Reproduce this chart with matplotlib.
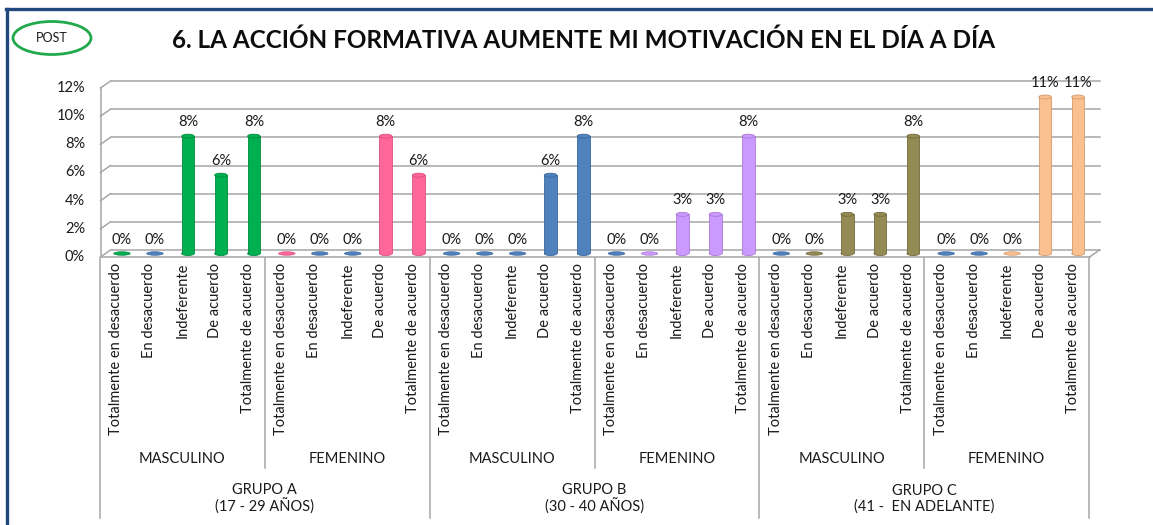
import matplotlib
matplotlib.use("Agg")
import matplotlib.pyplot as plt
from matplotlib.patches import Ellipse
from matplotlib.lines import Line2D

plt.rcParams['font.family'] = ['Lato', 'DejaVu Sans']

# Data (porcentajes sobre 36 encuestados)
respuestas = ["Totalmente en desacuerdo", "En desacuerdo", "Indeferente",
              "De acuerdo", "Totalmente de acuerdo"]
sexos = ["MASCULINO", "FEMENINO"]
grupos = ["GRUPO A\n(17 - 29 AÑOS)", "GRUPO B\n(30 - 40 AÑOS)",
          "GRUPO C\n(41 -  EN ADELANTE)"]

a_masc = [0, 0, 8.33, 5.56, 8.33]
a_fem = [0, 0, 0, 8.33, 5.56]
b_masc = [0, 0, 0, 5.56, 8.33]
b_fem = [0, 0, 2.78, 2.78, 8.33]
c_masc = [0, 0, 2.78, 2.78, 8.33]
c_fem = [0, 0, 0, 11.11, 11.11]

series = [a_masc, a_fem, b_masc, b_fem, c_masc, c_fem]
colores = ["#00B050", "#FF6699", "#4F81BD", "#CC99FF", "#948A54", "#FAC090"]
bordes = ["#00893E", "#D9507F", "#3A679C", "#A97AD6", "#74693D", "#D39A6A"]
# zero markers keep the default blue except these positions
cero_color = {0: 0, 5: 1, 16: 3, 21: 4, 27: 5}

W, H = 1153, 525
fig = plt.figure(figsize=(W / 100, H / 100), dpi=100)

def fx(x):
    return x / W

def fy(y):
    return 1 - y / H

Y0, Y12 = 253.5, 84.5   # pixel rows of 0% and 12% at the bars' depth
ax = fig.add_axes([fx(105.5), fy(Y0), (1094.5 - 105.5) / W, (Y0 - Y12) / H])
ax.set_xlim(-0.5, 29.5)
ax.set_ylim(0, 12)
ax.axis("off")

dxu = 30 / 989          # data units per pixel (x)
dyu = 12 / (Y0 - Y12)   # data units per pixel (y)

def py(row):
    return (Y0 - row) * dyu

grid = "#A6A6A6"
txt = "#1A1A1A"

# back wall gridlines + left wall
back = 3.5 * dyu
front = -3.5 * dyu
for v in range(0, 13, 2):
    ax.plot([-0.5 + 5 * dxu, 29.5 + 5 * dxu], [v + back] * 2, color=grid, lw=1.1,
            clip_on=False, zorder=1)
    ax.plot([-0.5 - 5 * dxu, -0.5 + 5 * dxu], [v + front, v + back], color=grid, lw=1.1,
            clip_on=False, zorder=1)
    ax.text(-0.5 - 20.5 * dxu, v + front, f"{v}%", ha="right", va="center",
            fontsize=10.5, color=txt)
ax.plot([-0.5 - 5 * dxu] * 2, [front, 12 + front], color=grid, lw=1.1, clip_on=False)
ax.plot([-0.5 - 5 * dxu, 29.5 - 5 * dxu], [front] * 2, color=grid, lw=1.1, clip_on=False)
ax.plot([29.5 - 5 * dxu, 29.5 + 5 * dxu], [front, back], color=grid, lw=1.1, clip_on=False)

# bars
bw = 0.38
for s, vals in enumerate(series):
    for j, v in enumerate(vals):
        i = s * 5 + j
        if v > 0:
            ax.bar(i, v, width=bw, color=colores[s], edgecolor=bordes[s], lw=0.6, zorder=3)
            ax.add_patch(Ellipse((i, v), bw, 4 * dyu, facecolor=colores[s],
                                 edgecolor=bordes[s], lw=0.6, zorder=4))
            ax.add_patch(Ellipse((i, 0), bw, 4 * dyu, facecolor=colores[s],
                                 edgecolor=bordes[s], lw=0.6, zorder=2, clip_on=False))
        else:
            c = cero_color.get(i, 2)
            ax.add_patch(Ellipse((i, 0), 0.5, 3.5 * dyu, facecolor=colores[c],
                                 edgecolor=bordes[c], lw=0.5, zorder=3, clip_on=False))
        ax.annotate(f"{v:.0f}%", (i, v), xytext=(0, 14), textcoords="offset pixels",
                    ha="center", va="center", fontsize=10.5, color=txt)

# category axis (three levels)
shift = -5.5 * dxu
for i in range(30):
    ax.text(i + shift, py(263), respuestas[i % 5], rotation=90, ha="center", va="top",
            fontsize=10.5, color=txt)
for k in range(6):
    ax.text(k * 5 + 2 + shift, py(459), sexos[k % 2], ha="center", va="center",
            fontsize=10.5, color=txt)
    if k % 2 == 0:
        ax.plot([k * 5 + 4.5 + shift] * 2, [py(258), py(468)], color=grid, lw=1.1,
                clip_on=False)
for g in range(3):
    ax.text(g * 10 + 4.5 + shift, py(499), grupos[g], ha="center", va="center",
            fontsize=10.5, color=txt, linespacing=1.1)
for g in range(4):
    ax.plot([g * 10 - 0.5 + shift] * 2, [py(258), py(518)], color=grid, lw=1.1,
            clip_on=False)

# frame, badge and title
fig.add_artist(Line2D([fx(6), fx(1153)], [fy(9), fy(9)], color="#1F497D", lw=2.4))
fig.add_artist(Line2D([fx(7), fx(7)], [fy(9), fy(525)], color="#1F497D", lw=2.4))
fig.add_artist(Ellipse((fx(52), fy(38)), 78 / W, 33 / H, transform=fig.transFigure,
                       fill=False, edgecolor="#22A94B", lw=2))
fig.text(fx(52), fy(38), "POST", ha="center", va="center", fontsize=9, color=txt)
fig.text(fx(584), fy(40), "6. LA ACCIÓN FORMATIVA AUMENTE MI MOTIVACIÓN EN EL DÍA A DÍA",
         ha="center", va="center", fontsize=17.5, fontweight="bold", color="#0D0D0D")

fig.savefig("out.png", dpi=100)
